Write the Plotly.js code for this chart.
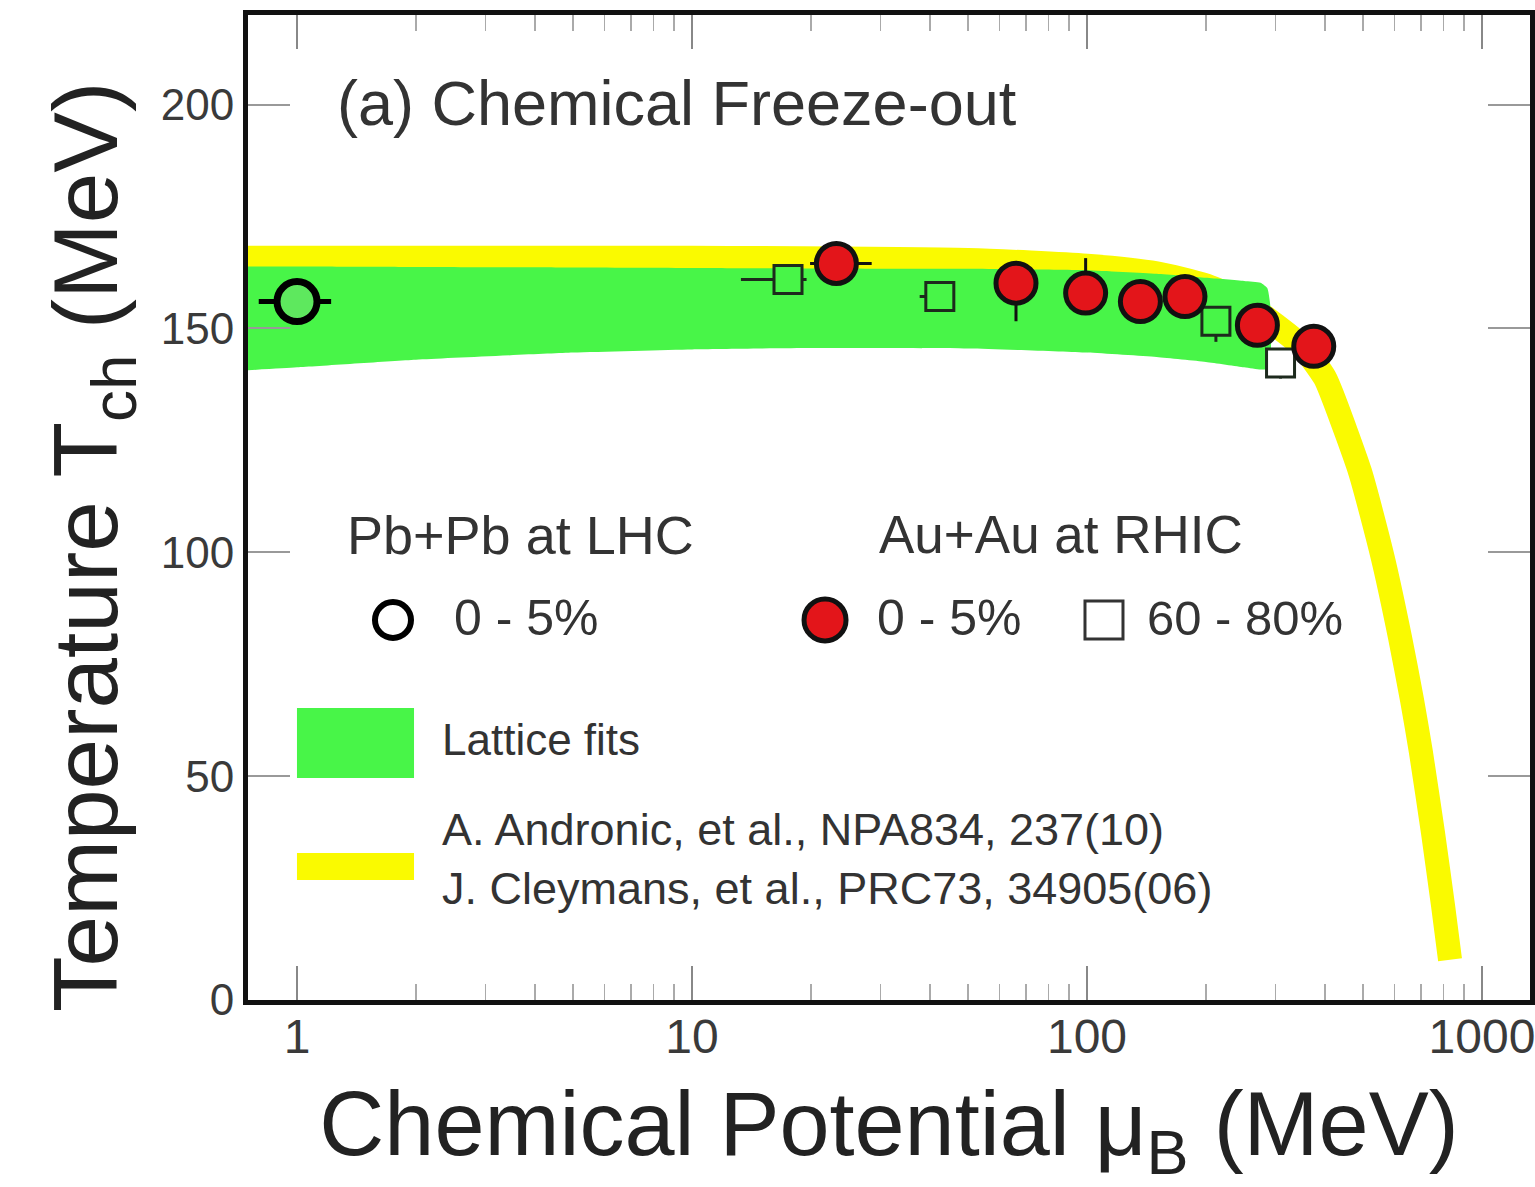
<!DOCTYPE html>
<html><head><meta charset="utf-8">
<script src="https://cdn.plot.ly/plotly-3.0.1.min.js"></script>
<style>html,body{margin:0;padding:0;background:#fff;} #chart{width:1535px;height:1187px;}</style>
</head><body><div id="chart"></div>
<script>
// Lattice fits band (green)
const latticeMu    = [0.7, 1, 2, 5, 10, 20, 50, 100, 150, 200, 250, 275, 286, 292];
const latticeUpper = [163.8, 163.8, 163.7, 163.6, 163.5, 163.4, 163.3, 163.0, 162.2, 161.3, 160.6, 160.2, 159.0, 154.0];
const latticeLower = [140.5, 141.3, 143.0, 144.6, 145.3, 145.6, 145.5, 144.6, 143.6, 142.5, 141.3, 140.8, 141.0, 145.0];

// Thermal-model freeze-out curve (yellow)
const curveMu = [0.7, 10, 50, 100, 150, 200, 250, 300, 350, 400, 420, 491, 560, 620, 665, 700, 751, 797, 830];
const curveT  = [165.8, 165.8, 165.3, 164.0, 162.3, 159.6, 155.8, 150.8, 146.0, 139.0, 134.6, 118.0, 99.0, 81.0, 67.0, 55.5, 37.5, 21.0, 9.0];

// Pb+Pb at LHC, 0-5%
const lhcMu = [1.0];
const lhcT = [156.0];
const lhcMuErrMinus = [0.2];
const lhcMuErrPlus = [0.22];

// Au+Au at RHIC, 0-5%
const rhicCentralMu = [23.2, 66.1, 99.2, 136.5, 177, 270, 375];
const rhicCentralT  = [164.5, 160.1, 157.9, 156.0, 157.1, 150.7, 146.0];
const rhicCentralMuErrMinus = [3.3, 3, 4, 5, 6, 8, 10];
const rhicCentralMuErrPlus  = [5.3, 3, 4, 5, 6, 8, 10];
const rhicCentralTErrPlus   = [3, 3, 7.8, 3, 3, 3, 3];
const rhicCentralTErrMinus  = [3, 8.5, 3, 3, 3, 3, 3];

// Au+Au at RHIC, 60-80%
const rhicPeriphMu = [17.5, 42.4, 212, 309];
const rhicPeriphT  = [160.9, 157.1, 151.6, 142.3];
const rhicPeriphMuErrMinus = [4.2, 4.7, 5, 6];
const rhicPeriphMuErrPlus  = [2, 3, 5, 6];
const rhicPeriphTErrMinus  = [2, 2, 4.6, 3.5];
const rhicPeriphTErrPlus   = [2, 2, 2, 2];

const xTickVals = [1, 10, 100, 1000];
const xTickText = ['1', '10', '100', '1000'];
const yTickVals = [0, 50, 100, 150, 200];
const yTickText = ['0', '50', '100', '150', '200'];

const minorX = [];
for (const d of [1, 10, 100]) for (let k = 2; k <= 9; k++) minorX.push(k * d);

const FONT = 'Liberation Sans, Arial, Helvetica, sans-serif';
const GREEN = '#48f548';
const YELLOW = '#fafa00';
const RED = '#e3151a';

// interior of open symbols shows what lies beneath (band or white background)
const periphFill = [GREEN, GREEN, GREEN, '#ffffff'];

const traces = [
  {
    x: curveMu, y: curveT, mode: 'lines', type: 'scatter',
    line: {color: YELLOW, width: 24, shape: 'spline', smoothing: 0.6},
    hoverinfo: 'skip'
  },
  {
    x: latticeMu.concat(latticeMu.slice().reverse()),
    y: latticeUpper.concat(latticeLower.slice().reverse()),
    mode: 'lines', type: 'scatter', fill: 'toself', fillcolor: GREEN,
    line: {width: 0, color: GREEN, shape: 'spline', smoothing: 0.5}, hoverinfo: 'skip'
  },
  {
    x: rhicPeriphMu, y: rhicPeriphT, mode: 'markers', type: 'scatter',
    marker: {symbol: 'square', size: 28, color: periphFill, line: {color: '#1d2a1d', width: 3}},
    error_x: {type: 'data', symmetric: false, array: rhicPeriphMuErrPlus, arrayminus: rhicPeriphMuErrMinus, color: '#1d2a1d', thickness: 3, width: 0},
    error_y: {type: 'data', symmetric: false, array: rhicPeriphTErrPlus, arrayminus: rhicPeriphTErrMinus, color: '#1d2a1d', thickness: 3, width: 0}
  },
  {
    x: rhicCentralMu, y: rhicCentralT, mode: 'markers', type: 'scatter',
    marker: {symbol: 'circle', size: 40, color: RED, line: {color: '#111', width: 5}},
    error_x: {type: 'data', symmetric: false, array: rhicCentralMuErrPlus, arrayminus: rhicCentralMuErrMinus, color: '#111', thickness: 3, width: 0},
    error_y: {type: 'data', symmetric: false, array: rhicCentralTErrPlus, arrayminus: rhicCentralTErrMinus, color: '#111', thickness: 3, width: 0}
  },
  {
    x: lhcMu, y: lhcT, mode: 'markers', type: 'scatter',
    marker: {symbol: 'circle', size: 40, color: '#5ee85e', line: {color: '#000', width: 7}},
    error_x: {type: 'data', symmetric: false, array: lhcMuErrPlus, arrayminus: lhcMuErrMinus, color: '#000', thickness: 5, width: 0}
  }
];

function ann(text, x, y, size) {
  return {text: text, xref: 'paper', yref: 'paper', x: x, y: y, xanchor: 'left', yanchor: 'middle',
          showarrow: false, font: {family: FONT, size: size, color: '#333'}};
}

const layout = {
  width: 1535, height: 1187,
  margin: {l: 248, r: 5, t: 15, b: 187},
  paper_bgcolor: '#fff', plot_bgcolor: '#fff',
  showlegend: false,
  font: {family: FONT, color: '#333'},
  xaxis: {
    type: 'log', range: [-0.1241, 3.1215],
    tickmode: 'array', tickvals: xTickVals, ticktext: xTickText,
    ticks: 'inside', ticklen: 34, tickwidth: 2, tickcolor: '#888',
    minor: {tickmode: 'array', tickvals: minorX, ticks: 'inside', ticklen: 16, tickwidth: 1.5, tickcolor: '#aaa', showgrid: false},
    mirror: 'allticks', showline: true, linewidth: 5, linecolor: '#111',
    showgrid: false, zeroline: false,
    tickfont: {family: FONT, size: 48, color: '#3a3a3a'},
    ticklabeloverflow: 'allow',
    ticklabelstandoff: -10,
    title: {text: 'Chemical Potential μ<sub>B</sub> (MeV)', font: {family: FONT, size: 90, color: '#222'}, standoff: 36}
  },
  yaxis: {
    range: [0, 220],
    tickmode: 'array', tickvals: yTickVals, ticktext: yTickText,
    ticks: 'inside', ticklen: 42, tickwidth: 2, tickcolor: '#999',
    mirror: 'allticks', showline: true, linewidth: 5, linecolor: '#111',
    showgrid: false, zeroline: false,
    tickfont: {family: FONT, size: 44, color: '#3a3a3a'},
    ticklabelstandoff: 0
  },
  annotations: [
    {text: 'Temperature T<sub>ch</sub> (MeV)', xref: 'paper', yref: 'paper', x: -0.1217, y: 0.4599,
     xanchor: 'center', yanchor: 'middle', textangle: -90, showarrow: false,
     font: {family: FONT, size: 91, color: '#222'}},
    ann('(a) Chemical Freeze-out', 0.0679, 0.9107, 63),
    ann('Pb+Pb at LHC', 0.0757, 0.4721, 54),
    ann('0 - 5%', 0.1591, 0.3878, 50),
    ann('Au+Au at RHIC', 0.4906, 0.4721, 53),
    ann('0 - 5%', 0.4891, 0.3878, 50),
    ann('60 - 80%', 0.6997, 0.3878, 49),
    ann('Lattice fits', 0.1498, 0.2640, 44),
    ann('A. Andronic, et al., NPA834, 237(10)', 0.1498, 0.1726, 45),
    ann('J. Cleymans, et al., PRC73, 34905(06)', 0.1498, 0.1137, 45)
  ],
  shapes: [
    {type: 'circle', xref: 'paper', yref: 'paper', xsizemode: 'pixel', ysizemode: 'pixel',
     xanchor: 0.1131, yanchor: 0.3858, x0: -18, x1: 18, y0: -18, y1: 18,
     line: {color: '#000', width: 6}, fillcolor: 'rgba(0,0,0,0)'},
    {type: 'circle', xref: 'paper', yref: 'paper', xsizemode: 'pixel', ysizemode: 'pixel',
     xanchor: 0.4501, yanchor: 0.3858, x0: -21, x1: 21, y0: -21, y1: 21,
     line: {color: '#111', width: 5}, fillcolor: RED},
    {type: 'rect', xref: 'paper', yref: 'paper', xsizemode: 'pixel', ysizemode: 'pixel',
     xanchor: 0.6677, yanchor: 0.3858, x0: -19, x1: 19, y0: -19, y1: 19,
     line: {color: '#333', width: 3}, fillcolor: 'rgba(0,0,0,0)'},
    {type: 'rect', xref: 'paper', yref: 'paper', x0: 0.0382, x1: 0.1295, y0: 0.2254, y1: 0.2964,
     line: {width: 0}, fillcolor: GREEN},
    {type: 'rect', xref: 'paper', yref: 'paper', x0: 0.0382, x1: 0.1295, y0: 0.1218, y1: 0.1492,
     line: {width: 0}, fillcolor: YELLOW}
  ]
};

Plotly.newPlot('chart', traces, layout, {staticPlot: true, displayModeBar: false});
</script>
</body></html>
